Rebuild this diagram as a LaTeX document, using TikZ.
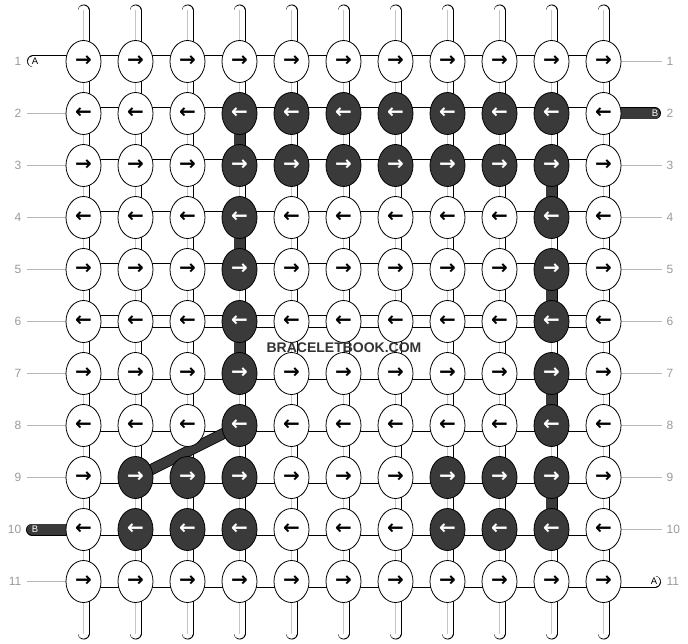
\documentclass[tikz,border=0pt]{standalone}
\usepackage{fontspec}
\setmainfont{Liberation Sans}
\newfontfamily\arrowfont{DejaVu Sans}
\usetikzlibrary{shapes.geometric}
\definecolor{knotdark}{HTML}{3A3A3A}
\definecolor{labgray}{HTML}{9A9A9A}
\definecolor{linegray}{HTML}{B8B8B8}
\definecolor{threadgray}{HTML}{C4C4C4}
\pgfdeclarelayer{background}
\pgfsetlayers{background,main}
\begin{document}
\begin{tikzpicture}[x=1pt,y=-1pt,
  knot/.style={ellipse, draw=black, line width=0.8pt, minimum width=35pt, minimum height=42pt, inner sep=0pt, font=\arrowfont\bfseries\fontsize{20}{20}\selectfont},
  lightknot/.style={knot, fill=white, text=black},
  darkknot/.style={knot, fill=knotdark, text=white},
  strandout/.style={line width=12pt, draw=black, line cap=round},
  strandin/.style={line width=10.4pt, draw=white, line cap=round},
  strandmid/.style={line width=1pt, draw=threadgray},
  hout/.style={line width=12pt, draw=black},
  hin/.style={line width=10.4pt, draw=white},
  darkout/.style={line width=12pt, draw=black},
  darkin/.style={line width=10.4pt, draw=knotdark},
  labline/.style={line width=0.8pt, draw=linegray},
  rowlab/.style={font=\fontsize{12}{12}\selectfont, text=labgray, inner sep=0pt},
  letterw/.style={font=\fontsize{9.5}{9.5}\selectfont, text=black, inner sep=0pt},
  letterd/.style={font=\fontsize{9.5}{9.5}\selectfont, text=white, inner sep=0pt}
]
\useasboundingbox (0,0) rectangle (688,644);
% dark knots
\foreach \p in {2-4,2-5,2-6,2-7,2-8,2-9,2-10,3-4,3-5,3-6,3-7,3-8,3-9,3-10,4-4,4-10,5-4,5-10,6-4,6-10,7-4,7-10,8-4,8-10,9-2,9-3,9-4,9-8,9-9,9-10,10-2,10-3,10-4,10-8,10-9,10-10}{\expandafter\gdef\csname dk-\p\endcsname{}}
% knots
\foreach \r in {1,...,11}{
  \foreach \c in {1,...,11}{
    \ifcsname dk-\r-\c\endcsname \def\sty{darkknot}\else\def\sty{lightknot}\fi
    \ifodd\r\relax \def\arr{→}\else\def\arr{←}\fi
    \node[\sty] (n-\r-\c) at ({83.5+(\c-1)*52},{61.5+(\r-1)*52}) {\arr};
  }
}
% row labels
\foreach \r in {1,...,11}{
  \node[rowlab, anchor=east] (ll-\r) at (21.5,{61.5+(\r-1)*52}) {\r};
  \node[rowlab, anchor=west] (rl-\r) at (666.5,{61.5+(\r-1)*52}) {\r};
}
\node[font=\bfseries\fontsize{14}{14}\selectfont, text=black!80, inner sep=0pt] (wm) at (344,347.5) {BRACELETBOOK.COM};
\begin{pgfonlayer}{background}
  % vertical strands
  \foreach \c in {1,...,11}{
    \coordinate (t-\c) at ({83.5+(\c-1)*52},10.5);
    \coordinate (b-\c) at ({83.5+(\c-1)*52},633.5);
    \draw[strandout] (t-\c) -- (b-\c);
    \draw[strandin] (t-\c) -- (b-\c);
    \draw[strandmid] ([xshift=-0.5pt]t-\c) -- ([xshift=-0.5pt]b-\c);
  }
  % dark vertical segments
  \foreach \a/\b/\c in {2/3/4,4/5/4,6/7/4,3/4/10,5/6/10,7/8/10,9/10/10}{
    \draw[darkout] (n-\a-\c.center) -- (n-\b-\c.center);
    \draw[darkin] (n-\a-\c.center) -- (n-\b-\c.center);
  }
  % horizontal links
  \foreach \r in {1,...,11}{
    \draw[hout] (n-\r-1.center) -- (n-\r-11.center);
    \draw[hin] (n-\r-1.center) -- (n-\r-11.center);
  }
  % diagonal dark strand
  \draw[darkout, line width=11pt] (n-9-2.center) -- (n-8-4.center);
  \draw[darkin, line width=9.4pt] (n-9-2.center) -- (n-8-4.center);
  % side threads
  \coordinate (ta-l) at (33,61.5);
  \coordinate (tb-l) at (32,529.5);
  \coordinate (tb-r) at (655,113.5);
  \coordinate (ta-r) at (655,581.5);
  \draw[hout, line cap=round] (ta-l) -- (n-1-1.center);
  \draw[hin, line cap=round] (ta-l) -- (n-1-1.center);
  \draw[hout, line cap=round] (ta-r) -- (n-11-11.center);
  \draw[hin, line cap=round] (ta-r) -- (n-11-11.center);
  \draw[darkout, line cap=round] (tb-l) -- (n-10-1.center);
  \draw[darkin, line cap=round] (tb-l) -- (n-10-1.center);
  \draw[darkout, line cap=round] (tb-r) -- (n-2-11.center);
  \draw[darkin, line cap=round] (tb-r) -- (n-2-11.center);
  \node[letterw] (a-l) at (35,61.5) {A};
  \node[letterw] (a-r) at (654,581.5) {A};
  \node[letterd] (b-l) at (35,529.5) {B};
  \node[letterd] (b-r) at (655,113.5) {B};
  % label lines
  \foreach \r in {2,3,4,5,6,7,8,9,11}{
    \coordinate (lx-\r) at (27,{61.5+(\r-1)*52});
    \draw[labline] (lx-\r) -- (n-\r-1.west);
  }
  \foreach \r in {1,3,4,5,6,7,8,9,10}{
    \coordinate (rx-\r) at (662,{61.5+(\r-1)*52});
    \draw[labline] (n-\r-11.east) -- (rx-\r);
  }
\end{pgfonlayer}
\end{tikzpicture}
\end{document}
